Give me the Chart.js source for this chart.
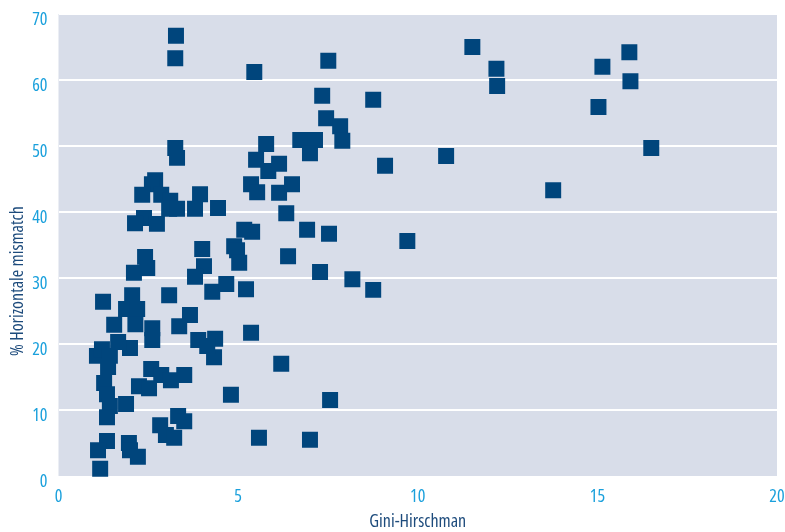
<!DOCTYPE html>
<html>
<head>
<meta charset="utf-8">
<script src="https://cdn.jsdelivr.net/npm/chart.js@4/dist/chart.umd.min.js"></script>
<style>
  html, body { margin: 0; padding: 0; background: #ffffff; }
  #wrap { width: 785px; height: 532px; }
</style>
</head>
<body>
<div id="wrap"><canvas id="chart" width="785" height="532"></canvas></div>
<script>
// Gini-Hirschman index per observation
const giniHirschman = [
  3.27, 3.25, 5.45, 11.52, 7.51, 12.19, 12.21, 15.14, 15.89, 15.92,
  15.03, 16.50, 13.77, 10.79, 9.71, 9.09, 8.76, 7.34, 7.45, 7.84,
  7.90, 6.73, 7.14, 7.00, 5.78, 5.50, 5.84, 6.14, 5.36, 5.53,
  6.14, 6.50, 6.34, 6.92, 7.53, 6.39, 7.28, 8.18, 8.76, 5.36,
  6.20, 4.80, 7.56, 5.58, 7.00, 4.33, 4.36, 3.89, 4.14, 3.25,
  3.30, 2.69, 2.60, 2.33, 2.86, 3.11, 3.08, 3.30, 3.94, 3.80,
  4.44, 2.38, 2.13, 2.74, 2.41, 2.47, 2.10, 4.00, 4.05, 3.80,
  4.28, 1.24, 3.08, 4.67, 5.22, 4.89, 4.97, 5.03, 5.17, 5.39,
  2.05, 1.88, 2.19, 2.14, 2.61, 2.61, 3.66, 3.36, 1.07, 1.21,
  1.43, 1.38, 1.99, 1.55, 1.66, 2.58, 2.86, 3.13, 3.50, 2.24,
  2.52, 1.27, 1.35, 1.43, 1.88, 1.35, 2.83, 2.99, 3.22, 3.33,
  3.50, 1.35, 1.10, 1.16, 1.96, 1.99, 2.21
];

// Share of horizontal mismatch (%) per observation
const horizontalMismatch = [
  66.7, 63.3, 61.2, 65.0, 62.9, 61.7, 59.1, 62.0, 64.2, 59.8,
  55.9, 49.7, 43.3, 48.5, 35.6, 47.0, 57.0, 57.6, 54.2, 53.0,
  50.8, 50.9, 50.9, 48.9, 50.3, 47.9, 46.2, 47.3, 44.2, 43.0,
  42.9, 44.2, 39.8, 37.3, 36.7, 33.3, 30.9, 29.8, 28.2, 21.7,
  17.0, 12.3, 11.5, 5.8, 5.5, 18.0, 20.8, 20.6, 19.7, 49.7,
  48.2, 44.8, 44.2, 42.6, 42.6, 41.7, 40.5, 40.5, 42.7, 40.5,
  40.6, 39.1, 38.3, 38.2, 33.2, 31.5, 30.8, 34.4, 31.8, 30.2,
  27.9, 26.4, 27.4, 29.1, 28.3, 34.8, 34.2, 32.3, 37.3, 37.0,
  27.4, 25.3, 25.3, 23.0, 22.4, 20.6, 24.4, 22.7, 18.2, 19.2,
  18.2, 16.5, 19.4, 22.9, 20.3, 16.2, 15.3, 14.5, 15.3, 13.6,
  13.3, 14.1, 12.4, 10.6, 10.9, 8.9, 7.7, 6.2, 5.8, 9.1,
  8.3, 5.3, 3.9, 1.1, 5.0, 3.9, 2.9
];

// Axis ranges and tick spacing
const xTicks = [0, 5, 10, 15, 20];
const yTicks = [0, 10, 20, 30, 40, 50, 60, 70];

const xTitle = 'Gini-Hirschman';
const yTitle = '% Horizontale mismatch';

const points = giniHirschman.map((x, i) => ({ x: x, y: horizontalMismatch[i] }));

const FAMILY = '"Open Sans", "DejaVu Sans Condensed", sans-serif';
const STRETCH = 'condensed';
const TICK_COLOR = '#1aa0dc';
const TITLE_COLOR = '#1d4b7c';
const MARK_COLOR = '#00457c';
const PLOT_BG = '#d8dde9';

// Fills the plotting area with the panel colour before anything else is drawn
const plotBackground = {
  id: 'plotBackground',
  beforeDraw(chart) {
    const { ctx, chartArea: a } = chart;
    ctx.save();
    ctx.fillStyle = PLOT_BG;
    ctx.fillRect(a.left, a.top, a.right - a.left, a.bottom - a.top);
    ctx.restore();
  }
};

// Horizontal tick labels (placed from the x scale, allowed to overhang the plot edge)
// and the vertical axis title, set a little below the middle of the plot
const axisText = {
  id: 'axisText',
  afterDraw(chart) {
    const { ctx, chartArea: a } = chart;
    const xs = chart.scales.x;
    ctx.save();
    ctx.font = STRETCH + ' 18px ' + FAMILY;
    ctx.fillStyle = TICK_COLOR;
    ctx.textAlign = 'center';
    ctx.textBaseline = 'middle';
    xTicks.forEach(v => ctx.fillText(String(v), xs.getPixelForValue(v), a.bottom + 21));

    ctx.translate(18, a.top + (a.bottom - a.top) * 0.578);
    ctx.rotate(-Math.PI / 2);
    ctx.fillStyle = TITLE_COLOR;
    ctx.fillText(yTitle, 0, 0);
    ctx.restore();
  }
};

new Chart(document.getElementById('chart'), {
  type: 'scatter',
  data: {
    datasets: [{
      data: points,
      pointStyle: 'rect',
      pointRadius: 11.3,
      pointHoverRadius: 11.3,
      backgroundColor: MARK_COLOR,
      borderWidth: 0,
      clip: 2
    }]
  },
  options: {
    responsive: false,
    animation: false,
    devicePixelRatio: 1,
    layout: { autoPadding: false, padding: { top: 14, right: 8, left: 0, bottom: 0 } },
    plugins: {
      legend: { display: false },
      tooltip: { enabled: false }
    },
    scales: {
      x: {
        type: 'linear',
        min: xTicks[0],
        max: xTicks[xTicks.length - 1],
        afterBuildTicks: (scale) => { scale.ticks = xTicks.map(v => ({ value: v })); },
        afterFit: (scale) => { scale.height = 56; },
        grid: { display: false, drawTicks: false },
        border: { display: false },
        ticks: { display: false },
        title: {
          display: true,
          text: xTitle,
          color: TITLE_COLOR,
          font: { family: FAMILY, size: 18, weight: STRETCH, lineHeight: 1 },
          padding: { top: 0, bottom: 1 }
        }
      },
      y: {
        type: 'linear',
        min: yTicks[0],
        max: yTicks[yTicks.length - 1],
        afterBuildTicks: (scale) => { scale.ticks = yTicks.map(v => ({ value: v })); },
        afterFit: (scale) => {
          scale.width = 58.5;
          scale.paddingTop = 0;
          scale.paddingBottom = 0;
        },
        grid: {
          drawTicks: false,
          lineWidth: 2,
          color: (c) => (c.tick && c.tick.value === 0 ? 'rgba(0,0,0,0)' : '#ffffff')
        },
        border: { display: false },
        ticks: {
          color: TICK_COLOR,
          font: { family: FAMILY, size: 18, weight: STRETCH },
          padding: 11,
          labelOffset: 6
        },
        title: { display: false }
      }
    }
  },
  plugins: [plotBackground, axisText]
});
</script>
</body>
</html>
